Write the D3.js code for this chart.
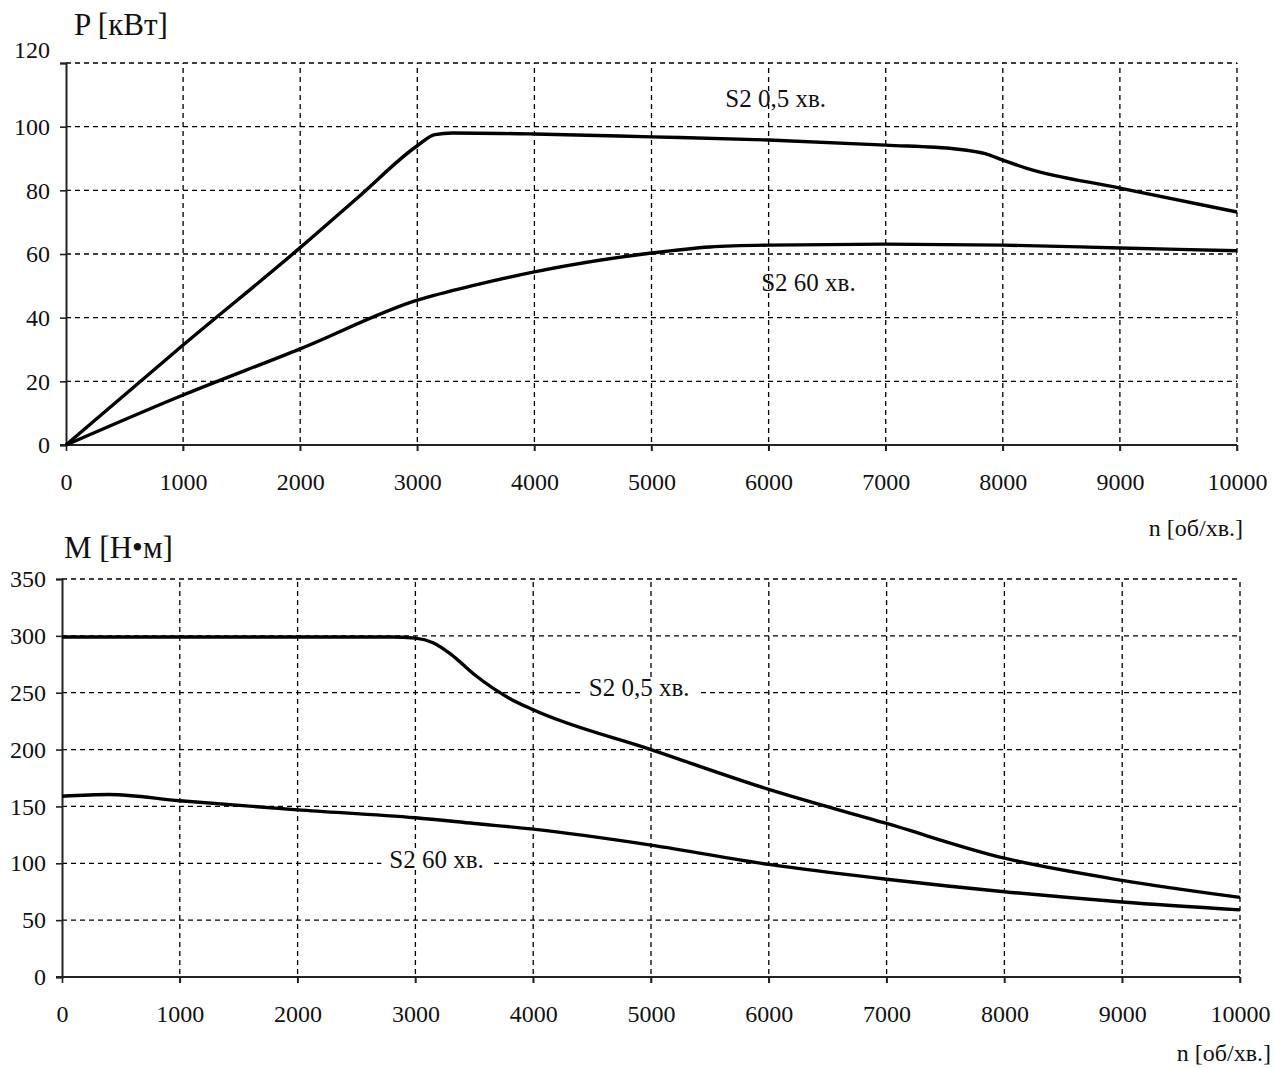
<!DOCTYPE html>
<html><head><meta charset="utf-8">
<script src="https://cdn.jsdelivr.net/npm/d3@7"></script>
<style>body{margin:0;background:#fff}svg{display:block}text{font-family:"Liberation Serif","Times New Roman",serif;fill:#111}</style>
</head><body><div id="chart"></div>
<script>
// ---- data ----
const xTicks = [0,1000,2000,3000,4000,5000,6000,7000,8000,9000,10000];
const pTicks = [0,20,40,60,80,100,120];
const mTicks = [0,50,100,150,200,250,300,350];

const pShortN = [0,1000,2000,2500,3000,3150,3300,4000,5000,6000,7000,7600,7850,8000,8200,9000,10000];
const pShortV = [0,31.4,62,78,94,97.5,98,97.7,96.8,95.8,94.2,93,91.5,89.5,87,80.7,73.2];
const pLongN = [0,1000,2000,3000,3500,4000,5000,5500,6000,7000,8000,9000,10000];
const pLongV = [0,15.7,30.2,45.5,50.3,54.4,60.3,62.2,62.8,63.1,62.8,61.9,61];

const mShortN = [0,1000,2000,2800,3000,3150,3300,3500,3800,4000,5000,6000,7000,8000,9000,10000];
const mShortV = [299,299,299,299,298,294,284,266,245,235,200,165,135,104.5,85,70];
const mLongN = [0,400,1000,2000,3000,3500,4000,5000,6000,7000,8000,9000,10000];
const mLongV = [159,160.5,155,147,140,135,130,116,99,86,75,66,59];

const labels = {
  p: [{t:"S2 0,5 хв.", n:6060, v:108}, {t:"S2 60 хв.", n:6340, v:50.3}],
  m: [{t:"S2 0,5 хв.", n:4900, v:252}, {t:"S2 60 хв.", n:3180, v:101}]
};

const W=1274,H=1068;
const svg=d3.select("#chart").append("svg").attr("width",W).attr("height",H);

function panel(cfg){
  const x=d3.scaleLinear().domain([0,10000]).range([cfg.x0,cfg.x1]);
  const y=d3.scaleLinear().domain([0,cfg.ymax]).range([cfg.y0,cfg.y1]);
  const g=svg.append("g");
  g.selectAll(".hg").data(cfg.yTicks.filter(d=>d>0)).enter().append("line")
    .attr("x1",x(0)).attr("x2",x(10000)).attr("y1",d=>y(d)).attr("y2",d=>y(d))
    .attr("stroke","#000").attr("stroke-width",1.3).attr("stroke-dasharray","5,4");
  g.selectAll(".vg").data(xTicks.filter(d=>d>0)).enter().append("line")
    .attr("x1",d=>x(d)).attr("x2",d=>x(d)).attr("y1",y(0)+6).attr("y2",y(cfg.ymax))
    .attr("stroke","#000").attr("stroke-width",1.3).attr("stroke-dasharray","5,4");
  const ya=d3.axisLeft(y).tickValues(cfg.yTicks).tickSize(6).tickPadding(10).tickFormat(d3.format("d"));
  const yg=g.append("g").attr("transform",`translate(${x(0)},0)`).call(ya);
  const xa=d3.axisBottom(x).tickValues(xTicks).tickSize(6).tickPadding(22).tickFormat(d3.format("d"));
  const xg=g.append("g").attr("transform",`translate(0,${y(0)})`).call(xa);
  [yg,xg].forEach(a=>{
    a.select(".domain").attr("stroke","#222").attr("stroke-width",2);
    a.selectAll(".tick line").attr("stroke","#222").attr("stroke-width",1.6);
    a.selectAll("text").style("font-family","'Liberation Serif',serif").style("font-size","24px").attr("fill","#111");
  });
  xg.select(".domain").attr("d",`M${x(0)-6},0H${x(10000)}`);
  if(cfg.topShift) yg.selectAll(".tick").filter(d=>d===cfg.ymax).select("text").attr("dy","-0.25em");
  cfg.labels.forEach(l=>{
    const t=g.append("text").attr("x",x(l.n)).attr("y",y(l.v)).attr("text-anchor","middle")
      .attr("dominant-baseline","middle").style("font-size","25px").text(l.t);
    if(cfg.labelBg){
      const b=t.node().getBBox();
      g.insert("rect",()=>t.node()).attr("x",b.x-8).attr("y",b.y+3).attr("width",b.width+16).attr("height",b.height-6).attr("fill","#fff");
    }
  });
  const line=d3.line().x(d=>x(d[0])).y(d=>y(d[1])).curve(d3.curveMonotoneX);
  cfg.series.forEach(s=>{
    g.append("path").datum(d3.zip(s[0],s[1])).attr("d",line)
      .attr("fill","none").attr("stroke","#000").attr("stroke-width",3.4).attr("stroke-linejoin","round");
  });
  g.append("text").attr("x",cfg.titleX).attr("y",cfg.titleY).style("font-size","31px").text(cfg.title);
  g.append("text").attr("x",cfg.nX).attr("y",cfg.nY).attr("text-anchor","end").style("font-size","24px").text("n [об/хв.]");
}

panel({x0:66,x1:1237,y0:445,y1:63,ymax:120,yTicks:pTicks,topShift:true,
  series:[[pShortN,pShortV],[pLongN,pLongV]],labels:labels.p,labelBg:false,
  title:"P [кВт]",titleX:74,titleY:35,nX:1243,nY:536});
panel({x0:62,x1:1240,y0:977,y1:579,ymax:350,yTicks:mTicks,topShift:false,
  series:[[mShortN,mShortV],[mLongN,mLongV]],labels:labels.m,labelBg:true,
  title:"M [Н•м]",titleX:64,titleY:558,nX:1271,nY:1061});
</script></body></html>
